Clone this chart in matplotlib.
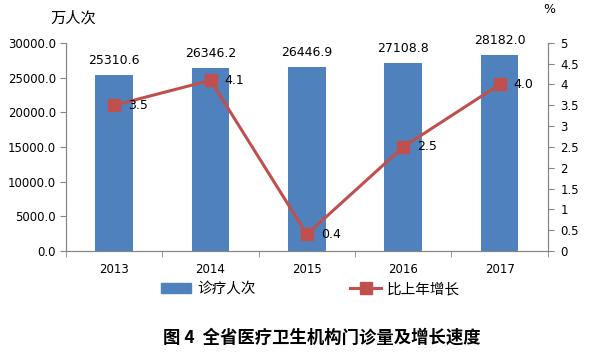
import matplotlib

matplotlib.use("Agg")
import matplotlib.pyplot as plt
import numpy as np

plt.rcParams["font.family"] = ["Noto Sans CJK SC", "DejaVu Sans"]

years = ["2013", "2014", "2015", "2016", "2017"]
visits = [25310.6, 26346.2, 26446.9, 27108.8, 28182.0]
growth = [3.5, 4.1, 0.4, 2.5, 4.0]

BAR_COLOR = "#4F81BD"
LINE_COLOR = "#C0504D"
AXIS_COLOR = "#868686"

fig = plt.figure(figsize=(5.89, 3.57), dpi=100)
ax = fig.add_axes([0.112, 0.297, 0.818, 0.583])
ax2 = ax.twinx()

x = np.arange(len(years))
ax.bar(x, visits, width=0.39, color=BAR_COLOR, zorder=2)
for xi, v in zip(x, visits):
    ax.annotate(f"{v:.1f}", (xi, v), xytext=(0, 6), textcoords="offset points",
                ha="center", va="bottom", fontsize=9, family="DejaVu Sans")

ax2.plot(x, growth, color=LINE_COLOR, lw=2.2, marker="s", markersize=8.5,
         markerfacecolor=LINE_COLOR, markeredgecolor=LINE_COLOR, zorder=3)
for xi, g in zip(x, growth):
    ax2.annotate(f"{g:.1f}", (xi, g), xytext=(10, 0), textcoords="offset points",
                 ha="left", va="center", fontsize=9, family="DejaVu Sans")

ax.set_xlim(-0.5, len(years) - 0.5)
ax.set_ylim(0, 30000)
ticks1 = np.arange(0, 30001, 5000)
ax.set_yticks(ticks1)
ax.set_yticklabels([f"{t:.1f}" for t in ticks1], family="DejaVu Sans", fontsize=8.5)
ax2.set_ylim(0, 5)
ticks2 = np.arange(0, 5.01, 0.5)
ax2.set_yticks(ticks2)
ax2.set_yticklabels([f"{t:g}" for t in ticks2], family="DejaVu Sans", fontsize=8.5)

ax.set_xticks(x)
ax.set_xticklabels(years, family="DejaVu Sans", fontsize=8.5)
ax.set_xticks(np.arange(-0.5, len(years)), minor=True)
ax.tick_params(axis="x", which="major", length=0, pad=9)
ax.tick_params(axis="x", which="minor", length=4, color=AXIS_COLOR)
ax.tick_params(axis="y", length=4, color=AXIS_COLOR, pad=3)
ax2.tick_params(axis="y", length=4, color=AXIS_COLOR, pad=5)

for a in (ax, ax2):
    a.spines["top"].set_visible(False)
    for s in ("left", "right", "bottom"):
        a.spines[s].set_color(AXIS_COLOR)

fig.text(0.085, 0.95, "万人次", fontsize=11, ha="left", va="center")
fig.text(0.922, 0.972, "%", fontsize=9, ha="left", va="center", family="DejaVu Sans")

handles = [
    plt.Rectangle((0, 0), 1, 1, color=BAR_COLOR),
    plt.Line2D([], [], color=LINE_COLOR, lw=2.2, marker="s", markersize=8.5),
]
fig.legend(handles, ["诊疗人次", "比上年增长"], loc="center", bbox_to_anchor=(0.527, 0.19),
           ncol=2, frameon=False, fontsize=10.5, columnspacing=6.5, handlelength=2.1,
           handletextpad=0.4)

fig.text(0.547, 0.055, "图 4  全省医疗卫生机构门诊量及增长速度", fontsize=12.5, ha="center",
         va="center", weight="bold")

fig.savefig("out.png", dpi=100)
